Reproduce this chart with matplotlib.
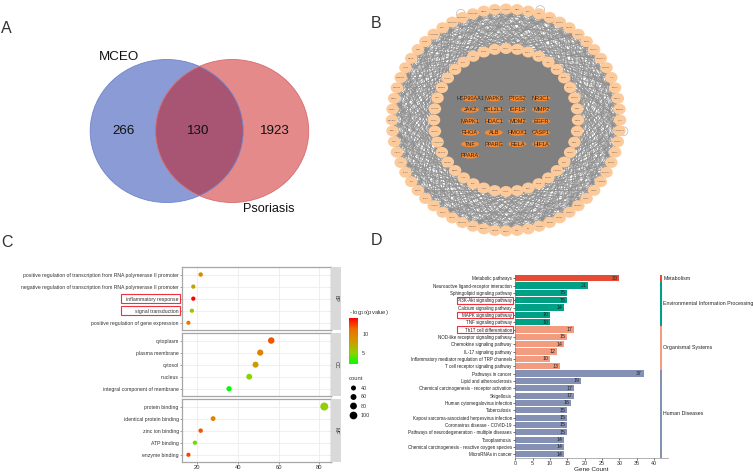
import numpy as np
import matplotlib
matplotlib.use("Agg")
import matplotlib.pyplot as plt
from matplotlib.patches import Ellipse, Rectangle, Circle
from matplotlib.collections import LineCollection
from matplotlib.colors import LinearSegmentedColormap, Normalize
from matplotlib.cm import ScalarMappable

plt.rcParams["font.family"] = ["Liberation Sans", "DejaVu Sans"]

W, H = 753, 474

# ===============================
# Data: A (Venn)
# ===============================
venn_names = ["MCEO", "Psoriasis"]
venn_counts = [266, 130, 1923]

# ===============================
# Data: B (network)
# ===============================
core_genes = ["HSP90AA1", "MAPK8", "PTGS2", "NR3C1",
              "JAK2", "BCL2L1", "IGF1R", "MMP2",
              "MAPK1", "HDAC1", "MDM2", "EGFR",
              "RHOA", "ALB", "HMOX1", "CASP1",
              "TNF", "PPARG", "RELA", "HIF1A",
              "PPARA"]
inner_genes = ["CTSL", "MMP10", "JAK1", "IDO1", "IGR", "STAT3", "ESR1", "PLAU",
               "PTGS1", "VDR", "DPP4", "NOS2", "KDR", "CCR5", "MET", "ABCB1",
               "HPGD", "CD38", "SRC", "MAPT", "TYK2", "PTEN", "FYN", "LCK",
               "APP", "BMP2", "NFKB1", "MAPK3", "AKR1C3", "CYP3A", "NOS3", "GSK3B",
               "CD4", "ERBB2", "PARP1", "CD44", "PLG", "HCK", "BLNK", "ACE"]
outer_genes = ["ALOX5", "REN", "TEK", "CD1", "SCN5A", "FABP4", "GRIN1", "NTRK1",
               "KIF11", "GPR35", "GABRA1", "CHRM1", "AR", "TGM2", "SIRT1", "PDE4B",
               "CA2", "ADORA1", "HTR2A", "DRD2", "MTOR", "PIK3CA", "ADRB2", "CNR1",
               "CNR2", "OPRM1", "HTR1A", "GRM5", "BCHE", "ACHE", "F2", "F10",
               "MAOA", "MAOB", "TRPV1", "PTPN1", "PTPN11", "CDK2", "CDK4", "AURKA",
               "PLK1", "BRAF", "KIT", "FLT3", "ALK", "ABL1", "SYK", "BTK",
               "PPARD", "RXRA", "RARA", "NR1H3", "HMGCR", "LDLR", "CETP", "TTR",
               "GLO1", "AKR1B1", "XDH", "CYP2C9", "CYP19A1", "HSD11B1", "CES1", "AMPD3"]
# ring offsets used for the drawn links (edges too dense to read one by one)
band_steps = [[-13, -9, -6, -2, 1, 4, 8, 12],
              [-11, -7, -4, -1, 3, 6, 10, 14],
              [-14, -10, -5, -3, 2, 5, 9, 11]]
outer_steps = [[4, 9, 13, 17], [6, 11, 16], [3, 8, 12, 15, 18]]
loop_nodes = [3, 17, 60]

# ===============================
# Data: C (GO dot plot)
# ===============================
go_groups = ["BP", "CC", "MF"]
go_terms = [
    ["positive regulation of transcription from RNA polymerase II promoter",
     "negative regulation of transcription from RNA polymerase II promoter",
     "inflammatory response", "signal transduction",
     "positive regulation of gene expression"],
    ["cytoplasm", "plasma membrane", "cytosol", "nucleus",
     "integral component of membrane"],
    ["protein binding", "identical protein binding", "zinc ion binding",
     "ATP binding", "enzyme binding"],
]
go_x = [[21.8, 18.2, 18.2, 17.5, 15.8],
        [56.4, 51.0, 48.7, 45.6, 35.7],
        [82.4, 27.9, 21.8, 19.0, 15.8]]
go_logp = [[9.3, 7.6, 14.4, 5.8, 11.0],
           [12.0, 10.0, 8.0, 5.0, 2.1],
           [5.2, 10.0, 12.0, 4.6, 12.5]]
go_count = [[28, 24, 24, 23, 21],
            [73, 66, 63, 59, 46],
            [107, 36, 28, 25, 21]]
count_legend = [40, 60, 80, 100]
go_boxed = ["inflammatory response", "signal transduction"]

# ===============================
# Data: D (KEGG bars)
# ===============================
kegg_terms = ["Metabolic pathways", "Neuroactive ligand-receptor interaction",
              "Sphingolipid signaling pathway", "PI3K-Akt signaling pathway",
              "Calcium signaling pathway", "MAPK signaling pathway",
              "TNF signaling pathway", "Th1T cell differentiation",
              "NOD-like receptor signaling pathway", "Chemokine signaling pathway",
              "IL-17 signaling pathway",
              "Inflammatory mediator regulation of TRP channels",
              "T cell receptor signaling pathway", "Pathways in cancer",
              "Lipid and atherosclerosis",
              "Chemical carcinogenesis - receptor activation", "Shigellosis",
              "Human cytomegalovirus infection", "Tuberculosis",
              "Kaposi sarcoma-associated herpesvirus infection",
              "Coronavirus disease - COVID-19",
              "Pathways of neurodegeneration - multiple diseases", "Toxoplasmosis",
              "Chemical carcinogenesis - reactive oxygen species",
              "MicroRNAs in cancer"]
kegg_counts = [30, 21, 15, 15, 14, 10, 10, 17, 15, 14, 12, 10, 13,
               37, 19, 17, 17, 16, 15, 15, 15, 15, 14, 14, 14]
kegg_groups = ["Metabolism", "Environmental Information Processing",
               "Organismal Systems", "Human Diseases"]
kegg_group_sizes = [1, 6, 6, 12]
kegg_colors = ["#E64B35", "#00A087", "#F39B7F", "#8491B4"]
kegg_boxed = ["PI3K-Akt signaling pathway", "MAPK signaling pathway",
              "Th1T cell differentiation"]


def px_axes(x0, y0, x1, y1):
    return fig.add_axes([x0 / W, 1 - y1 / H, (x1 - x0) / W, (y1 - y0) / H])


fig = plt.figure(figsize=(W / 100, H / 100), dpi=100)

# overlay in pixel coordinates for panel letters, Venn and network
ov = fig.add_axes([0, 0, 1, 1])
ov.set_xlim(0, W)
ov.set_ylim(H, 0)
ov.axis("off")

for letter, x, y in [("A", 1, 32.5), ("B", 370.5, 28), ("C", 1, 246.5), ("D", 370.5, 245)]:
    ov.text(x, y, letter, fontsize=11.5, color="#333333", ha="left", va="baseline")

# ===============================
# Panel A
# ===============================
left = Ellipse((166.7, 131), 153, 143, fc="#8A9BD6", ec="none")
right = Ellipse((232.2, 131), 153, 143, fc="#E58A8A", ec="none")
ov.add_patch(left)
ov.add_patch(right)
overlap = Ellipse((166.7, 131), 153, 143, fc="#A85573", ec="none")
ov.add_patch(overlap)
overlap.set_clip_path(Ellipse((232.2, 131), 153, 143, transform=ov.transData))
ov.add_patch(Ellipse((166.7, 131), 153, 143, fc="none", ec="#6F84CC", lw=0.6))
ov.add_patch(Ellipse((232.2, 131), 153, 143, fc="none", ec="#D96A6E", lw=0.6))
ov.text(119, 57, venn_names[0], fontsize=9.6, ha="center", va="center", color="#111111")
ov.text(269, 209, venn_names[1], fontsize=9.2, ha="center", va="center", color="#111111")
for x, n in zip([124, 198.5, 275], venn_counts):
    ov.text(x, 130.5, str(n), fontsize=9.6, ha="center", va="center", color="#111111")

# ===============================
# Panel B
# ===============================
cx, cy = 506, 120
n_out, n_in = len(outer_genes), len(inner_genes)
ang_out = np.pi / 2 - 2 * np.pi * np.arange(n_out) / n_out
ang_in = np.pi / 2 - 2 * np.pi * np.arange(n_in) / n_in
out_xy = np.c_[cx + 114 * np.cos(ang_out), cy - 111 * np.sin(ang_out)]
in_xy = np.c_[cx + 72 * np.cos(ang_in), cy - 71.5 * np.sin(ang_in)]
core_xy = np.array([[470 + 23.7 * (k % 4), 98.3 + 11.45 * (k // 4)]
                    for k in range(len(core_genes))])

segs = []
for i in range(n_out):
    j0 = int(round(i * n_in / n_out))
    for s in band_steps[i % 3]:
        segs.append([out_xy[i], in_xy[(j0 + s) % n_in]])
    for s in outer_steps[i % 3]:
        segs.append([out_xy[i], out_xy[(i + s) % n_out]])
ov.add_collection(LineCollection(segs, colors="#8f8f8f", linewidths=0.4, zorder=1))

segs = []
for i in range(n_in):
    for j in range(i + 1, n_in):
        segs.append([in_xy[i], in_xy[j]])
    for p in core_xy:
        segs.append([in_xy[i], p])
for i in range(len(core_xy)):
    for j in range(i + 1, len(core_xy)):
        segs.append([core_xy[i], core_xy[j]])
ov.add_collection(LineCollection(segs, colors="#808080", linewidths=1.0, zorder=1.1))

for i in loop_nodes:
    ov.add_patch(Circle(out_xy[i] + (out_xy[i] - [cx, cy]) * 0.035, 4.5, fc="none",
                        ec="#aaaaaa", lw=0.4, zorder=1))

for xy, name in list(zip(out_xy, outer_genes)) + list(zip(in_xy, inner_genes)):
    ov.add_patch(Ellipse(xy, 12.5, 11, fc="#FDCB9B", ec="none", zorder=2))
    ov.text(xy[0], xy[1], name, fontsize=1.7, ha="center", va="center",
            color="#555555", zorder=3)
for xy, name in zip(core_xy, core_genes):
    ov.add_patch(Ellipse(xy, 18, 6, fc="#F58A33", ec="none", zorder=2))
    ov.text(xy[0], xy[1], name, fontsize=4.0, ha="center", va="center",
            color="#222222", zorder=3)

# ===============================
# Panel C
# ===============================
cmap = LinearSegmentedColormap.from_list(
    "go", ["#00FF00", "#90D000", "#D09800", "#EC7000", "#FF0000"])
norm = Normalize(2.05, 14.4)
panel_tops = [267.3, 333.3, 399.3]


def dot_size(count):
    return ((3.2 + 0.045 * np.asarray(count)) * 0.72) ** 2


for k, top in enumerate(panel_tops):
    ax = px_axes(182.3, top, 331, top + 62.7)
    ypos = np.arange(5)
    ax.scatter(go_x[k], ypos, s=dot_size(go_count[k]), c=go_logp[k], cmap=cmap,
               norm=norm, linewidths=0, zorder=3)
    ax.set_xlim(12.8, 85.7)
    ax.set_ylim(4.6, -0.6)
    ax.set_yticks(ypos)
    ax.set_yticklabels(go_terms[k], fontsize=3.7, color="#333333")
    ax.set_xticks([20, 40, 60, 80])
    ax.grid(True, color="#ececec", lw=0.6)
    ax.set_axisbelow(True)
    ax.tick_params(axis="y", length=1.5, width=0.4, pad=1, color="#555555")
    if k == 2:
        ax.tick_params(axis="x", length=1.5, width=0.4, pad=1, labelsize=4.2,
                       labelcolor="#333333", color="#555555")
    else:
        ax.tick_params(axis="x", length=0, labelbottom=False)
    for side in ax.spines.values():
        side.set_color("#a6a6a6")
        side.set_linewidth(0.9)
    ax.spines["right"].set_color("#555555")
    strip = px_axes(331, top, 340.7, top + 62.7)
    strip.set_facecolor("#D9D9D9")
    strip.set_xticks([])
    strip.set_yticks([])
    for side in strip.spines.values():
        side.set_visible(False)
    strip.text(0.5, 0.5, go_groups[k], rotation=-90, fontsize=3.8, color="#333333",
               ha="center", va="center", transform=strip.transAxes)
    for term, y in zip(go_terms[k], ypos):
        if term in go_boxed:
            py = top + (y + 0.6) * 62.7 / 5.2
            ov.add_patch(Rectangle((121, py - 5), 59.3, 9.7, fc="none", ec="#F0303A",
                                   lw=0.8, zorder=6))

cax = px_axes(349, 318, 358, 364)
cb = fig.colorbar(ScalarMappable(norm=norm, cmap=cmap), cax=cax)
cb.set_ticks([5, 10])
cb.ax.tick_params(labelsize=3.9, length=0, pad=3, labelcolor="#333333")
cb.outline.set_visible(False)
ov.text(349, 312.5, "- log$_{10}$(pvalue)", fontsize=4.2, va="center", color="#333333",
        math_fontfamily="dejavusans")
ov.text(349, 378, "count", fontsize=4.2, va="center", color="#333333")
legend_y = [388, 397, 406, 415.5]
ov.scatter([353.5] * 4, legend_y, s=dot_size(count_legend), c="black", linewidths=0, zorder=5)
for y, n in zip(legend_y, count_legend):
    ov.text(361, y, str(n), fontsize=3.9, va="center", color="#333333")

# ===============================
# Panel D
# ===============================
ax = px_axes(515.3, 275, 668, 458)
ypos = np.arange(len(kegg_terms))
bar_colors = np.repeat(kegg_colors, kegg_group_sizes)
ax.barh(ypos, kegg_counts, height=0.86, color=bar_colors)
for y, v in zip(ypos, kegg_counts):
    ax.text(v - 0.5, y, str(v), fontsize=3.8, ha="right", va="center", color="#222222")
ax.set_xlim(0, 44)
ax.set_ylim(24.5, -0.45)
ax.set_yticks(ypos)
ax.set_yticklabels(kegg_terms, fontsize=3.25, color="#222222")
ax.set_xticks(np.arange(0, 41, 5))
ax.tick_params(axis="both", length=1.5, width=0.4, pad=1)
ax.tick_params(axis="x", labelsize=3.9, labelcolor="#333333")
ax.set_xlabel("Gene Count", fontsize=4.6, labelpad=0.5, color="#222222")
for side in ["top", "right"]:
    ax.spines[side].set_visible(False)
for side in ["left", "bottom"]:
    ax.spines[side].set_linewidth(0.4)
    ax.spines[side].set_color("#777777")

start = -0.45
for name, size, color in zip(kegg_groups, kegg_group_sizes, kegg_colors):
    ax.barh(start + size / 2, 0.6, left=41.8, height=size, color=color, clip_on=False)
    ax.text(42.7, start + size / 2 - (0.1 if size > 1 else 0), name, fontsize=3.75,
            va="center", color="#222222", clip_on=False)
    start += size

for term in kegg_boxed:
    py = 278.3 + kegg_terms.index(term) * 7.33
    ov.add_patch(Rectangle((457.3, py - 3.2), 56, 6.6, fc="none", ec="#F0303A",
                           lw=0.8, zorder=6))

# overlay above the other axes so the boxes stay visible
ov.set_zorder(5)
ov.patch.set_visible(False)

fig.savefig("out.png", dpi=100)
